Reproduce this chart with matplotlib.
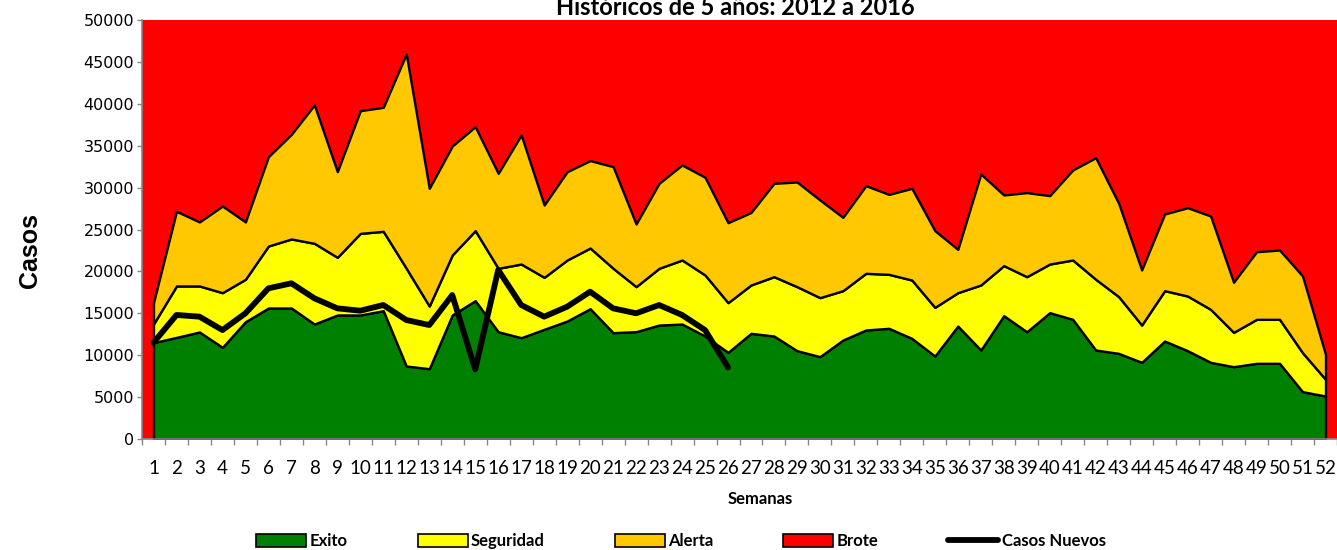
import numpy as np
import matplotlib
matplotlib.use("Agg")
import matplotlib.pyplot as plt
from matplotlib.patches import Patch
from matplotlib.lines import Line2D

# Canal endemico: upper limit of each zone, weeks 1..52
semanas = list(range(1, 53))
exito = [11500, 12130, 12770, 10940, 14000, 15630, 15630, 13720, 14800, 14800,
         15310, 8710, 8390, 14800, 16510, 12800, 12090, 13090, 14080, 15550,
         12690, 12810, 13600, 13720, 12290, 10340, 12610, 12290, 10540, 9830,
         11810, 13010, 13210, 12010, 9900, 13480, 10620, 14720, 12800, 15080,
         14280, 10620, 10220, 9150, 11690, 10540, 9150, 8630, 9030, 9030,
         5650, 5130]
seguridad = [13720, 18260, 18260, 17460, 19060, 23030, 23870, 23350, 21680, 24540,
             24780, 20370, 15870, 21960, 24860, 20370, 20880, 19290, 21360, 22790,
             20370, 18180, 20370, 21360, 19570, 16270, 18380, 19370, 18180, 16870,
             17700, 19770, 19650, 18970, 15710, 17460, 18380, 20690, 19370, 20880,
             21360, 19060, 16990, 13600, 17700, 17060, 15470, 12730, 14280, 14280,
             10300, 7120]
alerta = [16270, 27170, 25900, 27800, 25900, 33690, 36360, 39860, 31900, 39180,
          39580, 45940, 29910, 34960, 37270, 31700, 36280, 27920, 31900, 33220,
          32500, 25660, 30510, 32700, 31230, 25810, 27030, 30510, 30670, 28520,
          26450, 30230, 29190, 29910, 24860, 22630, 31620, 29120, 29400, 29040,
          32100, 33570, 28120, 20170, 26850, 27600, 26610, 18700, 22350, 22550,
          19450, 10100]
casos_nuevos = [11500, 14800, 14600, 13000, 15000, 17980, 18580, 16790, 15590, 15310,
                15990, 14200, 13600, 17180, 8310, 20170, 15990, 14600, 15790, 17580,
                15590, 15000, 15990, 14800, 13000, 8550]
brote_max = 50000

verde = "#008000"
amarillo = "#FFFF00"
naranja = "#FFC800"
rojo = "#FF0000"
gris = "#868686"

fig = plt.figure(figsize=(13.37, 5.5), dpi=100)
ax = fig.add_axes([142 / 1337, 1 - 439 / 550, 1195 / 1337, 419 / 550])
ax.set_facecolor(rojo)  # zona de brote

x = np.array(semanas)
ax.fill_between(x, 0, exito, facecolor=verde, edgecolor="black", linewidth=1.7, zorder=2)
ax.fill_between(x, exito, seguridad, facecolor=amarillo, edgecolor="black", linewidth=1.7, zorder=2)
ax.fill_between(x, seguridad, alerta, facecolor=naranja, edgecolor="black", linewidth=1.7, zorder=2)
ax.plot(semanas[:len(casos_nuevos)], casos_nuevos, color="black", linewidth=4.2,
        solid_capstyle="round", solid_joinstyle="round", zorder=5)

ax.set_xlim(0.5, 52.5)
ax.set_ylim(0, brote_max)
ax.set_yticks(np.arange(0, brote_max + 1, 5000))
ax.set_xticks(semanas)
ax.set_xticklabels([str(s) for s in semanas], fontfamily="Lato", fontsize=13.5)
ax.set_xticks(np.arange(0.5, 53, 1), minor=True)
ax.tick_params(axis="x", which="major", length=0, pad=15)
ax.tick_params(axis="x", which="minor", length=4, color=gris, width=1)
ax.tick_params(axis="y", length=3.5, color=gris, width=1, labelsize=11.5, pad=2)
for s in ["top", "right"]:
    ax.spines[s].set_visible(False)
for s in ["left", "bottom"]:
    ax.spines[s].set_color(gris)
    ax.spines[s].set_linewidth(1.2)

fig.text(735 / 1337, 1 - 15 / 550, "Históricos de 5 años: 2012 a 2016",
         ha="center", va="baseline", fontfamily="Lato", fontweight="bold", fontsize=17)
fig.text(30 / 1337, 1 - 250 / 550, "Casos", rotation=90, ha="center", va="center",
         fontfamily="Liberation Sans", fontweight="bold", fontsize=18)
fig.text(760 / 1337, 1 - 499 / 550, "Semanas", ha="center", va="center",
         fontfamily="Lato", fontweight="bold", fontsize=12)

handles = [
    Patch(facecolor=verde, edgecolor="black", linewidth=1.2),
    Patch(facecolor=amarillo, edgecolor="black", linewidth=1.2),
    Patch(facecolor=naranja, edgecolor="black", linewidth=1.2),
    Patch(facecolor=rojo, edgecolor="black", linewidth=1.2),
    Line2D([0], [0], color="black", linewidth=4.2, solid_capstyle="round"),
]
labels = ["Exito", "Seguridad", "Alerta", "Brote", "Casos Nuevos"]
fig.legend(handles, labels, loc="center", bbox_to_anchor=(681 / 1337, 1 - 541 / 550),
           ncol=5, frameon=False, handlelength=3.0, handleheight=0.8,
           handletextpad=0.2, columnspacing=4.2,
           prop={"family": "Lato", "weight": "bold", "size": 12})

fig.savefig("out.png", dpi=100)
